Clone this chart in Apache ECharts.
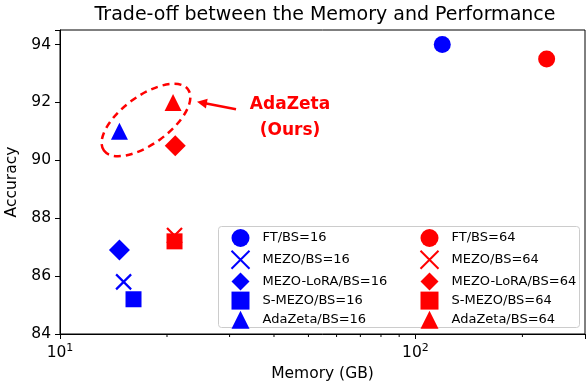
<!DOCTYPE html>
<html><head><meta charset="utf-8">
<script src="https://cdn.jsdelivr.net/npm/echarts@6/dist/echarts.min.js"></script>
<style>html,body{margin:0;padding:0;background:#fff}#c{width:586px;height:383px}</style>
</head><body><div id="c"></div>
<script>
// ---- data ----
const methods = ['FT', 'MEZO', 'MEZO-LoRA', 'S-MEZO', 'AdaZeta'];
const mem16 = [119, 15.1, 14.7, 16.1, 14.7];
const acc16 = [94.0, 85.8, 86.9, 85.2, 91.0];
const mem64 = [234, 21.0, 21.1, 21.0, 20.8];
const acc64 = [93.5, 87.4, 90.5, 87.2, 92.0];
const minorTickValues = [20, 30, 40, 50, 60, 70, 80, 90, 200];
const yTicks = [84, 86, 88, 90, 92, 94];

const XPATH = 'path://M0,0L10,10M10,0L0,10';
const symbols = ['circle', XPATH, 'diamond', 'rect', 'triangle'];
const sizes = [17, 15, 21, 16, 17];
const FONT = 'DejaVu Sans';

function mkSeries(bs, mem, acc, color) {
  return methods.map((m, i) => {
    const isX = symbols[i] === XPATH;
    return {
      name: m + '/BS=' + bs,
      type: 'scatter',
      data: [[mem[i], acc[i]]],
      symbol: symbols[i],
      symbolSize: sizes[i],
      itemStyle: isX ? {color: 'none', borderColor: color, borderWidth: 2.2, opacity: 1}
                     : {color: color, opacity: 1},
      z: 3
    };
  });
}
const s16 = mkSeries(16, mem16, acc16, '#0000ff');
const s64 = mkSeries(64, mem64, acc64, '#ff0000');

const minorSeries = {
  type: 'custom',
  silent: true,
  data: minorTickValues.map(v => [v, 84]),
  renderItem: function (params, api) {
    const p = api.coord([api.value(0), 84]);
    return {type: 'line', shape: {x1: p[0], y1: p[1], x2: p[0], y2: p[1] + 3}, style: {stroke: '#000', lineWidth: 1}};
  },
  clip: false,
  z: 1
};

const chart = echarts.init(document.getElementById('c'), null, {renderer: 'canvas'});
const legendCommon = {
  orient: 'vertical', padding: 0, itemWidth: 18, itemHeight: 18, itemGap: 1.2,
  textStyle: {fontFamily: FONT, fontSize: 13, color: '#000', padding: [0, 0, 0, 8]},
  selectedMode: false
};
chart.setOption({
  animation: false,
  textStyle: {fontFamily: FONT},
  title: {
    text: 'Trade-off between the Memory and Performance',
    left: 320, top: 1, textAlign: 'center',
    textStyle: {fontFamily: FONT, fontSize: 19, fontWeight: 'normal', color: '#000'}
  },
  grid: {left: 60, right: 1, top: 30, bottom: 49, show: true, borderColor: '#000', borderWidth: 1,
         containLabel: false, outerBoundsMode: 'none'},
  xAxis: {
    type: 'log', logBase: 10, min: 10, max: 300,
    name: 'Memory (GB)', nameLocation: 'middle', nameGap: 32,
    nameTextStyle: {fontFamily: FONT, fontSize: 15.5, color: '#000'},
    axisLine: {lineStyle: {color: '#000', width: 1}},
    axisTick: {show: true, inside: false, length: 5, lineStyle: {color: '#000'}},
    splitLine: {show: false},
    axisLabel: {
      margin: 9,
      formatter: function (v) {
        const l = Math.log10(v);
        if (Math.abs(l - Math.round(l)) > 1e-6) return '';
        return '10{sup|' + Math.round(l) + '}';
      },
      color: '#000', fontFamily: FONT, fontSize: 15.5,
      rich: {sup: {fontSize: 11, verticalAlign: 'top', padding: [0, 0, 8, 0], fontFamily: FONT, color: '#000'}}
    }
  },
  yAxis: {
    type: 'value', min: 84, max: 94.5, interval: 2,
    name: 'Accuracy', nameLocation: 'middle', nameGap: 38, nameRotate: 90,
    nameTextStyle: {fontFamily: FONT, fontSize: 15.5, color: '#000'},
    axisLine: {show: true, lineStyle: {color: '#000', width: 1}},
    axisTick: {show: true, inside: false, length: 5, lineStyle: {color: '#000'}},
    splitLine: {show: false},
    axisLabel: {
      margin: 9, color: '#000', fontFamily: FONT, fontSize: 15.5,
      formatter: v => (yTicks.indexOf(v) >= 0 ? String(v) : '')
    }
  },
  legend: [
    Object.assign({}, legendCommon, {left: 229, top: 229, data: s16.map(s => s.name)}),
    Object.assign({}, legendCommon, {left: 418, top: 229, data: s64.map(s => s.name)})
  ],
  graphic: [
    {type: 'rect', left: 218, top: 226, z: 0,
     shape: {width: 361, height: 101, r: 3},
     style: {fill: 'rgba(255,255,255,0.8)', stroke: '#cccccc', lineWidth: 1}},
    {type: 'ellipse', x: 146, y: 120, rotation: 36 * Math.PI / 180, z: 10,
     shape: {cx: 0, cy: 0, rx: 52, ry: 24},
     style: {fill: 'none', stroke: '#ff0000', lineWidth: 2.5, lineDash: [7, 5]}},
    {type: 'line', z: 10, shape: {x1: 236, y1: 109.3, x2: 205, y2: 103.3},
     style: {stroke: '#ff0000', lineWidth: 2.5}},
    {type: 'polygon', z: 10, shape: {points: [[197, 101.8], [207.7, 98.8], [205.9, 108.6]]},
     style: {fill: '#ff0000'}},
    {type: 'text', x: 290, y: 118, z: 10,
     style: {text: 'AdaZeta\n(Ours)', fill: '#ff0000', font: 'bold 17px "DejaVu Sans"',
             textAlign: 'center', textVerticalAlign: 'middle', lineHeight: 26}}
  ],
  series: s16.concat(s64).concat([minorSeries])
});
</script></body></html>
